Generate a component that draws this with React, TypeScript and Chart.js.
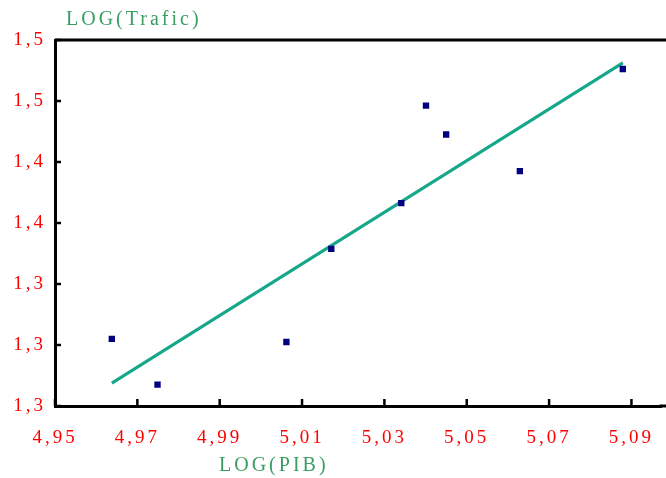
import { useEffect, useRef } from 'react';
import { Chart, registerables } from 'chart.js';

Chart.register(...registerables);

// Observed points: LOG(PIB) vs LOG(Trafic)
const pibLog = [4.9638, 4.9749, 5.0062, 5.0171, 5.0341, 5.0401, 5.045, 5.0629, 5.0879];
const traficLog = [1.304, 1.274, 1.302, 1.363, 1.393, 1.457, 1.438, 1.414, 1.481];

// Trend line end points
const trendPib = [4.9638, 5.0879];
const trendTrafic = [1.275, 1.485];

const xTickValues = [4.95, 4.97, 4.99, 5.01, 5.03, 5.05, 5.07, 5.09];
const xTickLabels = ['4,95', '4,97', '4,99', '5,01', '5,03', '5,05', '5,07', '5,09'];
const yTickValues = [1.26, 1.3, 1.34, 1.38, 1.42, 1.46, 1.5];
const yTickLabels = ['1,3', '1,3', '1,3', '1,4', '1,4', '1,5', '1,5'];

const xTitle = 'LOG(PIB)';
const yTitle = 'LOG(Trafic)';

const FONT = "'Liberation Serif', 'Times New Roman', serif";
const TITLE_COLOR = '#3a9d62';
const TICK_COLOR = '#ff0000';

const spacingPlugin = {
  id: 'spacing',
  beforeLayout(chart: any) {
    chart.ctx.letterSpacing = '3px';
  },
  beforeDraw(chart: any) {
    chart.ctx.letterSpacing = '3px';
  },
};

const framePlugin = {
  id: 'frame',
  afterDatasetsDraw(chart: any) {
    const { ctx, chartArea } = chart;
    const xs = chart.scales.x;
    const ys = chart.scales.y;
    ctx.save();
    ctx.strokeStyle = '#000';
    ctx.lineWidth = 2.5;
    ctx.beginPath();
    ys.ticks.forEach((t: any) => {
      const py = ys.getPixelForValue(t.value);
      ctx.moveTo(chartArea.left, py);
      ctx.lineTo(chartArea.left + 6, py);
    });
    xs.ticks.forEach((t: any) => {
      const px = xs.getPixelForValue(t.value);
      ctx.moveTo(px, chartArea.bottom);
      ctx.lineTo(px, chartArea.bottom - 7);
    });
    ctx.stroke();
    ctx.lineWidth = 3;
    ctx.beginPath();
    ctx.moveTo(chartArea.left, chartArea.top);
    ctx.lineTo(chart.width, chartArea.top);
    ctx.moveTo(chartArea.right - 2, chartArea.bottom);
    ctx.lineTo(chart.width, chartArea.bottom);
    ctx.stroke();
    ctx.restore();
  },
  afterDraw(chart: any) {
    const { ctx, chartArea } = chart;
    ctx.save();
    ctx.letterSpacing = '3px';
    ctx.font = `20px ${FONT}`;
    ctx.fillStyle = TITLE_COLOR;
    ctx.textAlign = 'left';
    ctx.textBaseline = 'middle';
    ctx.fillText(yTitle, chartArea.left + 11, chartArea.top - 20);
    ctx.fillText(xTitle, chartArea.left + 164, chartArea.bottom + 60);
    ctx.restore();
  },
};

export default function App() {
  const canvasRef = useRef<HTMLCanvasElement | null>(null);

  useEffect(() => {
    if (!canvasRef.current) return;
    const chart = new Chart(canvasRef.current, {
      type: 'scatter',
      data: {
        datasets: [
          {
            type: 'line',
            data: trendPib.map((x, i) => ({ x, y: trendTrafic[i] })),
            borderColor: '#14a789',
            borderWidth: 3,
            pointRadius: 0,
            showLine: true,
            fill: false,
            order: 2,
          } as any,
          {
            type: 'scatter',
            data: pibLog.map((x, i) => ({ x, y: traficLog[i] })),
            backgroundColor: '#000080',
            borderWidth: 0,
            pointStyle: 'rect',
            pointRadius: 4.5,
            order: 1,
          },
        ],
      },
      options: {
        animation: false,
        responsive: true,
        maintainAspectRatio: false,
        layout: { padding: { top: 40, left: 0, right: 0, bottom: 0 } },
        plugins: {
          legend: { display: false },
          tooltip: { enabled: false },
          title: { display: false },
        },
        scales: {
          x: {
            type: 'linear',
            min: 4.95,
            max: 5.0973,
            afterBuildTicks: (scale: any) => {
              scale.ticks = xTickValues.map((v) => ({ value: v }));
            },
            afterFit: (scale: any) => {
              scale.height = 72;
              scale.paddingLeft = 0;
              scale.paddingRight = 0;
            },
            grid: { display: false, drawTicks: false },
            border: { display: true, color: '#000', width: 3 },
            ticks: {
              autoSkip: false,
              maxRotation: 0,
              padding: 21,
              color: TICK_COLOR,
              font: { family: FONT, size: 19 },
              callback: (_v: any, i: number) => xTickLabels[i],
            },
          },
          y: {
            type: 'linear',
            min: 1.26,
            max: 1.5,
            afterBuildTicks: (scale: any) => {
              scale.ticks = yTickValues.map((v) => ({ value: v }));
            },
            afterFit: (scale: any) => {
              scale.width = 55;
              scale.paddingTop = 0;
              scale.paddingBottom = 0;
            },
            grid: { display: false, drawTicks: false },
            border: { display: true, color: '#000', width: 3 },
            ticks: {
              padding: 9,
              color: TICK_COLOR,
              font: { family: FONT, size: 19 },
              callback: (_v: any, i: number) => yTickLabels[i],
            },
          },
        },
      },
      plugins: [spacingPlugin, framePlugin],
    });
    return () => chart.destroy();
  }, []);

  return (
    <div style={{ position: 'fixed', left: 0, top: 0, width: 666, height: 478, background: '#fff' }}>
      <canvas ref={canvasRef} />
    </div>
  );
}
